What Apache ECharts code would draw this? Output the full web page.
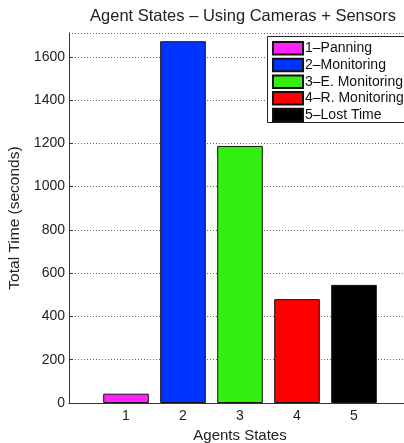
<!DOCTYPE html>
<html>
<head>
<meta charset="utf-8">
<script src="https://cdn.jsdelivr.net/npm/echarts@6/dist/echarts.min.js"></script>
<style>
  html, body { margin: 0; padding: 0; background: #fff; overflow: hidden; }
  #chart { width: 404px; height: 443px; }
</style>
</head>
<body>
<div id="chart"></div>
<script>
// Category slots on the x axis: 0 and 6 are empty padding slots on each side.
const slots = ['0', '1', '2', '3', '4', '5', '6'];
const stateNames = ['1\u2013Panning', '2\u2013Monitoring', '3\u2013E. Monitoring', '4\u2013R. Monitoring', '5\u2013Lost Time'];
const stateSlots = ['1', '2', '3', '4', '5'];
const totalTimes = [43, 1672, 1188, 480, 546];
const stateColors = ['#ff22ff', '#0033ff', '#33ee11', '#ff0000', '#000000'];
const yTicks = [0, 200, 400, 600, 800, 1000, 1200, 1400, 1600];

const font = 'Liberation Sans, Arial, Helvetica, sans-serif';

// One series per state, all stacked in one column so each bar sits on its own slot.
const series = stateNames.map((name, i) => {
  const data = slots.map(s => (s === stateSlots[i] ? totalTimes[i] : null));
  return {
    name: name,
    type: 'bar',
    stack: 'states',
    data: data,
    barWidth: '80%',
    itemStyle: { color: stateColors[i], borderColor: '#111', borderWidth: 1 }
  };
});

const chart = echarts.init(document.getElementById('chart'), null, { renderer: 'canvas' });
chart.setOption({
  animation: false,
  backgroundColor: '#fff',
  textStyle: { fontFamily: font },
  title: {
    text: 'Agent States \u2013 Using Cameras + Sensors',
    left: 238,
    textAlign: 'center',
    top: 3,
    textStyle: { fontFamily: font, fontSize: 16.5, fontWeight: 'normal', color: '#222' }
  },
  // the plot runs past the right edge of the canvas, as x = 6 lies beyond it
  grid: { left: 69, width: 342, top: 33, bottom: 40, containLabel: false, outerBoundsMode: 'none' },
  // legend frame, running off the right edge together with the plot
  graphic: [{
    type: 'rect',
    z: 3,
    silent: true,
    shape: { x: 267.5, y: 36.5, width: 160, height: 86 },
    style: { fill: '#fff', stroke: '#222', lineWidth: 1 }
  }],
  legend: {
    orient: 'vertical',
    left: 267,
    top: 36,
    z: 5,
    itemWidth: 30,
    itemHeight: 12.5,
    itemGap: 2.2,
    padding: [5, 4, 1, 5],
    icon: 'rect',
    textStyle: { fontFamily: font, fontSize: 14, color: '#111', padding: [0, 0, 0, -3] },
    data: stateNames
  },
  xAxis: {
    type: 'category',
    data: slots,
    boundaryGap: false,
    name: 'Agents States',
    nameLocation: 'middle',
    nameGap: 24,
    nameTextStyle: { fontFamily: font, fontSize: 15, color: '#222' },
    axisLine: { lineStyle: { color: '#333', width: 1 } },
    axisTick: {
      inside: true, length: 4,
      interval: (idx) => idx > 0 && idx < 6,
      lineStyle: { color: '#333' }
    },
    axisLabel: {
      fontFamily: font, fontSize: 14, color: '#222', margin: 6,
      interval: 0,
      formatter: (v) => (stateSlots.indexOf(v) >= 0 ? v : '')
    },
    splitLine: { show: false }
  },
  yAxis: {
    type: 'value',
    min: 0,
    max: 1710,
    interval: 200,
    name: 'Total Time (seconds)',
    nameLocation: 'middle',
    nameGap: 43,
    nameTextStyle: { fontFamily: font, fontSize: 15.5, color: '#222' },
    axisLine: { show: true, lineStyle: { color: '#333', width: 1 } },
    axisTick: { show: true, inside: true, length: 4, lineStyle: { color: '#333' } },
    axisLabel: {
      fontFamily: font, fontSize: 14, color: '#222', margin: 4,
      showMaxLabel: false,
      formatter: (v) => (yTicks.indexOf(v) >= 0 ? String(v) : '')
    },
    splitLine: { show: true, lineStyle: { color: '#666', type: [1, 2], width: 1 } }
  },
  series: series
});
</script>
</body>
</html>
